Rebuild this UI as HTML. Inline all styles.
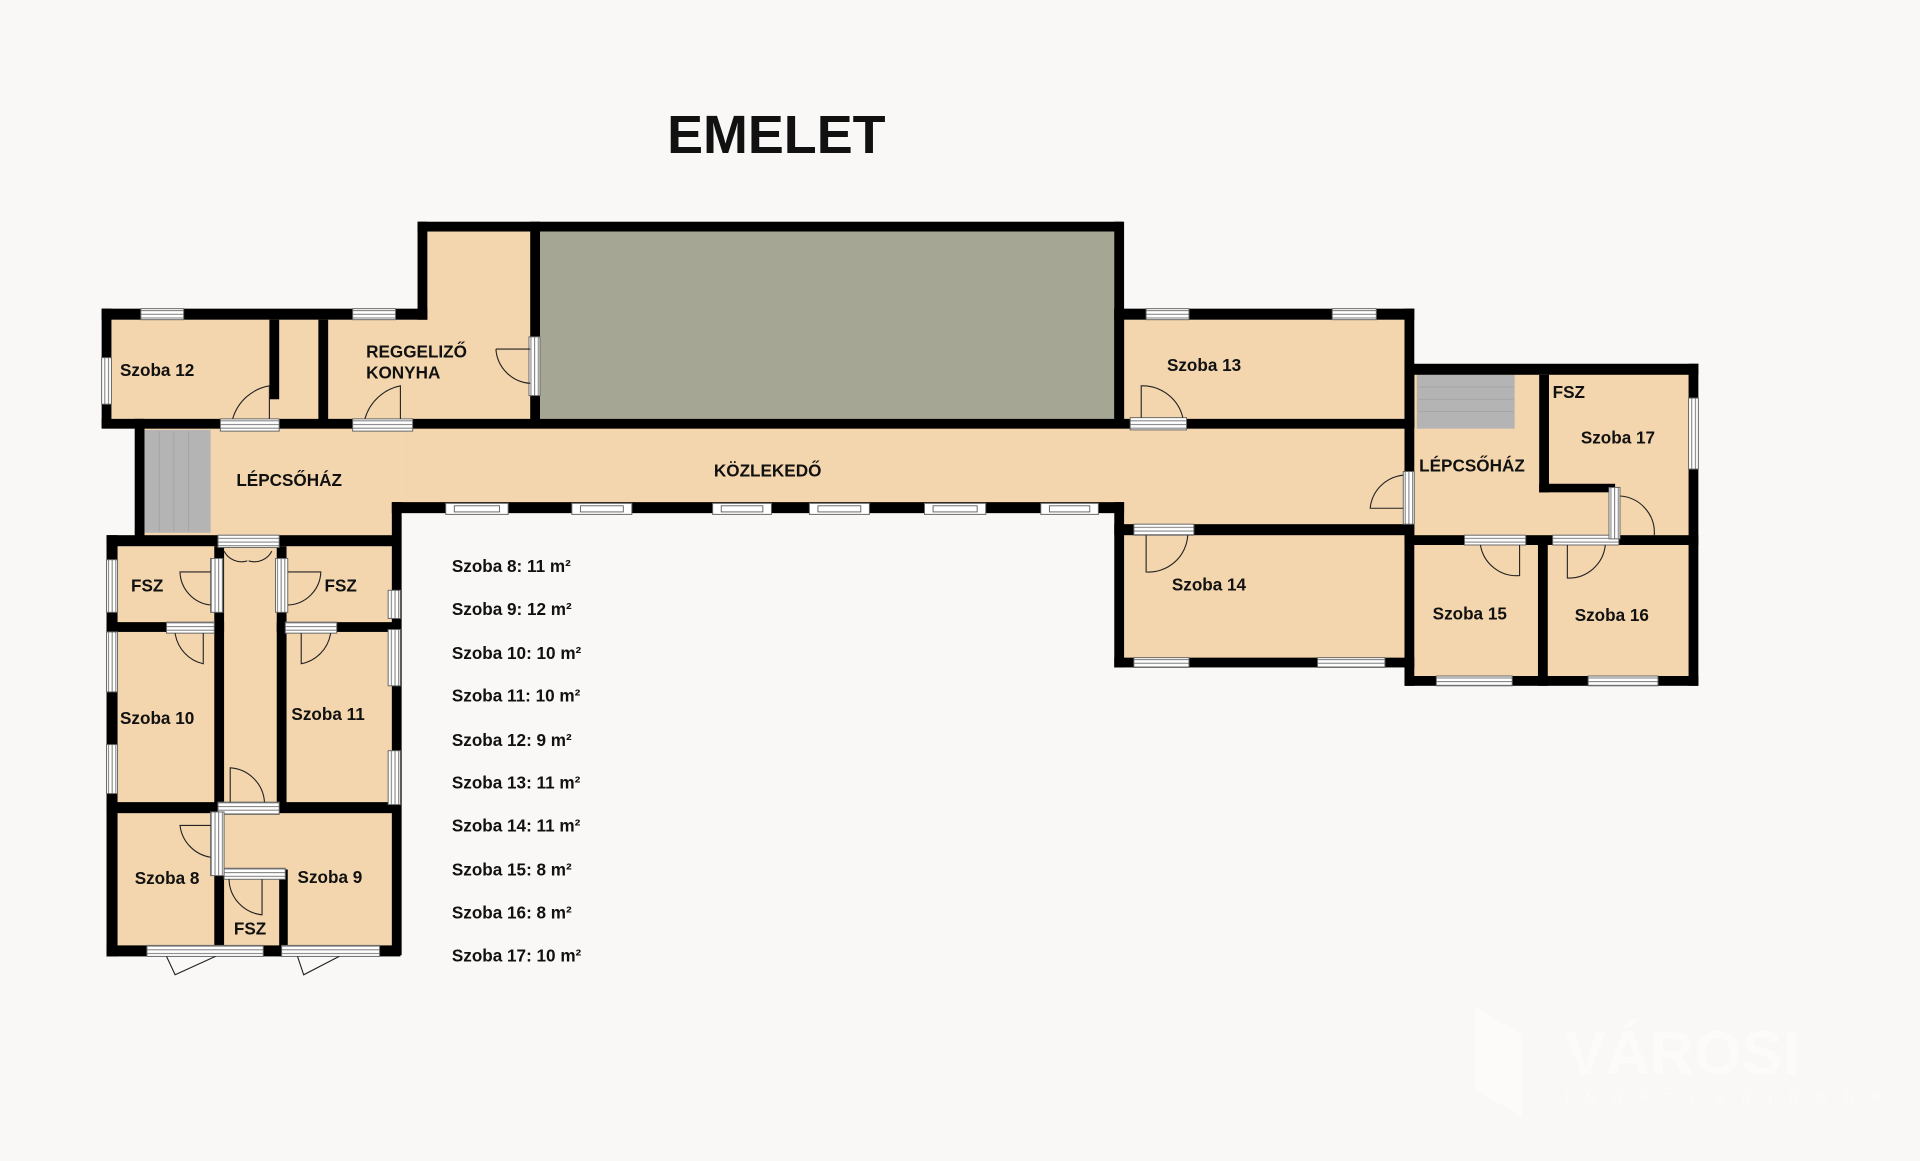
<!DOCTYPE html>
<html><head><meta charset="utf-8"><style>
html,body{margin:0;padding:0;background:#f9f8f6;}
svg{display:block;}
text{font-family:"Liberation Sans",Arial,sans-serif;font-weight:bold;fill:#111;}
</style></head><body>
<svg width="1920" height="1161" viewBox="0 0 1568 948" xmlns="http://www.w3.org/2000/svg">
<defs>
<pattern id="hl" width="4" height="3" patternUnits="userSpaceOnUse"><rect width="4" height="3" fill="#fff"/><rect y="1.2" width="4" height="0.8" fill="#777"/></pattern>
<pattern id="vl" width="3" height="4" patternUnits="userSpaceOnUse"><rect width="3" height="4" fill="#fff"/><rect x="1.2" width="0.8" height="4" fill="#777"/></pattern>
</defs>
<rect width="1568" height="948" fill="#f9f8f6"/>
<text x="634" y="125" font-size="44" text-anchor="middle">EMELET</text>

<!-- floors -->
<g fill="#f3d6ad">
<rect x="88" y="256" width="850" height="90"/>
<rect x="341" y="185" width="100" height="160"/>
<rect x="112" y="345" width="216" height="92"/>
<rect x="328" y="345" width="824" height="67"/>
<rect x="914" y="345" width="238" height="90"/>
<rect x="90" y="437" width="234" height="342"/>
<rect x="912" y="256" width="240" height="288"/>
<rect x="1150" y="300" width="234" height="257"/>
</g>
<rect x="441" y="189" width="470" height="153" fill="#a5a794"/>
<rect x="118" y="351" width="54" height="84" fill="#b4b4b4"/>
<rect x="1157" y="306" width="80" height="44" fill="#b4b4b4"/>
<g stroke="#a0a0a0" stroke-width="0.6">
<line x1="130" y1="352" x2="130" y2="434"/><line x1="142" y1="352" x2="142" y2="434"/><line x1="154" y1="352" x2="154" y2="434"/>
<line x1="1158" y1="316" x2="1236" y2="316"/><line x1="1158" y1="326" x2="1236" y2="326"/><line x1="1158" y1="336" x2="1236" y2="336"/>
</g>

<!-- walls -->
<g fill="#000">
<rect x="341" y="181" width="576" height="8"/>
<rect x="341" y="181" width="8" height="80"/>
<rect x="433" y="181" width="8" height="168"/>
<rect x="910" y="181" width="8" height="168"/>
<rect x="83" y="252" width="266" height="9"/>
<rect x="83" y="252" width="8" height="97"/>
<rect x="220" y="261" width="8" height="65"/>
<rect x="260" y="261" width="8" height="88"/>
<rect x="83" y="342" width="1072" height="8"/>
<rect x="110" y="342" width="8" height="100"/>
<rect x="320" y="410" width="598" height="9"/>
<rect x="320" y="410" width="8" height="370"/>
<rect x="910" y="410" width="8" height="135"/>
<rect x="87" y="437" width="240" height="9"/>
<rect x="87" y="437" width="9" height="344"/>
<rect x="175" y="446" width="8" height="335"/>
<rect x="226" y="446" width="8" height="212"/>
<rect x="87" y="508" width="96" height="8"/>
<rect x="226" y="508" width="100" height="8"/>
<rect x="87" y="655" width="240" height="9"/>
<rect x="228" y="710" width="7" height="71"/>
<rect x="183" y="710" width="45" height="7"/>
<rect x="87" y="772" width="240" height="9"/>
<rect x="910" y="252" width="245" height="9"/>
<rect x="1147" y="252" width="8" height="97"/>
<rect x="910" y="252" width="8" height="97"/>
<rect x="1147" y="297" width="8" height="263"/>
<rect x="910" y="428" width="245" height="9"/>
<rect x="910" y="537" width="245" height="8"/>
<rect x="1147" y="297" width="240" height="9"/>
<rect x="1379" y="297" width="8" height="263"/>
<rect x="1257" y="306" width="8" height="96"/>
<rect x="1257" y="395" width="62" height="7"/>
<rect x="1147" y="437" width="240" height="8"/>
<rect x="1256" y="445" width="8" height="115"/>
<rect x="1147" y="552" width="240" height="8"/>
</g>

<g stroke="#666" stroke-width="0.8">
<g fill="url(#hl)">
<rect x="115" y="252" width="35" height="9"/>
<rect x="288" y="252" width="35" height="9"/>
<rect x="180" y="342" width="48" height="10"/>
<rect x="288" y="342" width="49" height="10"/>
<rect x="936" y="252" width="35" height="9"/>
<rect x="1088" y="252" width="36" height="9"/>
<rect x="923" y="341" width="46" height="10"/>
<rect x="926" y="428" width="49" height="9"/>
<rect x="926" y="537" width="45" height="8"/>
<rect x="1076" y="537" width="55" height="8"/>
<rect x="1196" y="437" width="50" height="8"/>
<rect x="1268" y="437" width="54" height="8"/>
<rect x="1173" y="552" width="62" height="8"/>
<rect x="1297" y="552" width="57" height="8"/>
<rect x="178" y="437" width="50" height="10"/>
<rect x="136" y="508" width="39" height="9"/>
<rect x="233" y="508" width="42" height="9"/>
<rect x="178" y="655" width="50" height="10"/>
<rect x="183" y="709" width="50" height="9"/>
<rect x="120" y="772" width="95" height="9"/>
<rect x="230" y="772" width="80" height="9"/>
</g>
<g fill="#fff">
<rect x="364" y="411" width="51" height="9"/><rect x="467" y="411" width="49" height="9"/>
<rect x="582" y="411" width="48" height="9"/><rect x="661" y="411" width="49" height="9"/>
<rect x="755" y="411" width="50" height="9"/><rect x="850" y="411" width="47" height="9"/>
</g>
<g fill="none" stroke="#555" stroke-width="0.7">
<rect x="371" y="413" width="37" height="5"/><rect x="474" y="413" width="35" height="5"/>
<rect x="589" y="413" width="34" height="5"/><rect x="668" y="413" width="35" height="5"/>
<rect x="762" y="413" width="36" height="5"/><rect x="857" y="413" width="33" height="5"/>
</g>
<g fill="url(#vl)">
<rect x="83" y="292" width="8" height="38"/>
<rect x="432" y="275" width="9" height="48"/>
<rect x="1146" y="385" width="9" height="43"/>
<rect x="1379" y="325" width="8" height="58"/>
<rect x="1314" y="398" width="9" height="42"/>
<rect x="172" y="456" width="10" height="44"/>
<rect x="225" y="456" width="10" height="44"/>
<rect x="87" y="457" width="9" height="43"/>
<rect x="317" y="482" width="10" height="23"/>
<rect x="87" y="516" width="9" height="49"/>
<rect x="87" y="608" width="9" height="40"/>
<rect x="317" y="514" width="10" height="46"/>
<rect x="317" y="613" width="10" height="44"/>
<rect x="172" y="663" width="11" height="52"/>
</g>
</g>

<g fill="none" stroke="#222" stroke-width="0.9">
<path d="M190 342 A38 38 0 0 1 220 315 L220 342"/>
<path d="M298 342 A38 38 0 0 1 327 315 L327 342"/>
<path d="M405 285 L433 285 M405 285 A30 30 0 0 0 433 313"/>
<path d="M932 341 L932 315 A34 34 0 0 1 966 341"/>
<path d="M1146 415 L1119 415 A30 30 0 0 1 1146 388"/>
<path d="M936 437 L936 467 A32 32 0 0 0 970 437"/>
<path d="M1209 445 A30 30 0 0 0 1241 470 L1241 445"/>
<path d="M1280 445 L1280 472 A30 30 0 0 0 1311 445"/>
<path d="M1323 405 A30 30 0 0 1 1351 437"/>
<path d="M172 467 L147 467 A28 28 0 0 0 172 494"/>
<path d="M235 467 L262 467 A28 28 0 0 1 235 494"/>
<path d="M143 517 A30 30 0 0 0 166 542 L166 517"/>
<path d="M246 517 L246 542 A30 30 0 0 0 270 517"/>
<path d="M188 655 L188 627 A30 30 0 0 1 216 655"/>
<path d="M172 674 L147 674 A30 30 0 0 0 172 700"/>
<path d="M187 718 A30 30 0 0 0 214 747 L214 718"/>
<path d="M136 781 L143 796 L176 781"/>
<path d="M243 781 L248 796 L277 781"/>
<path d="M183 450 A16 16 0 0 0 202 458 M222 450 A16 16 0 0 1 203 458"/>
</g>

<g font-size="14">
<text x="98" y="307">Szoba 12</text>
<text x="299" y="292">REGGELIZŐ</text>
<text x="299" y="309">KONYHA</text>
<text x="193" y="397">LÉPCSŐHÁZ</text>
<text x="583" y="389">KÖZLEKEDŐ</text>
<text x="953" y="303">Szoba 13</text>
<text x="957" y="482">Szoba 14</text>
<text x="1159" y="385">LÉPCSŐHÁZ</text>
<text x="1268" y="325">FSZ</text>
<text x="1291" y="362">Szoba 17</text>
<text x="1170" y="506">Szoba 15</text>
<text x="1286" y="507">Szoba 16</text>
<text x="107" y="483">FSZ</text>
<text x="265" y="483">FSZ</text>
<text x="98" y="591">Szoba 10</text>
<text x="238" y="588">Szoba 11</text>
<text x="110" y="722">Szoba 8</text>
<text x="243" y="721">Szoba 9</text>
<text x="191" y="763">FSZ</text>
</g>
<g font-size="14">
<text x="369" y="467">Szoba 8: 11 m²</text>
<text x="369" y="502">Szoba 9: 12 m²</text>
<text x="369" y="538">Szoba 10: 10 m²</text>
<text x="369" y="573">Szoba 11: 10 m²</text>
<text x="369" y="609">Szoba 12: 9 m²</text>
<text x="369" y="644">Szoba 13: 11 m²</text>
<text x="369" y="679">Szoba 14: 11 m²</text>
<text x="369" y="715">Szoba 15: 8 m²</text>
<text x="369" y="750">Szoba 16: 8 m²</text>
<text x="369" y="785">Szoba 17: 10 m²</text>
</g>
<g>
<polygon points="1205,822 1243,845 1243,912 1205,890" fill="#fcfbfa"/>
<text x="1278" y="877" font-size="50" style="fill:#fcfbfa">VÁROSI</text>
<text x="1278" y="900" font-size="11" style="fill:#fcfbfa;font-weight:normal" letter-spacing="14">INGATLANIRODA</text>
</g>
</svg>
</body></html>
